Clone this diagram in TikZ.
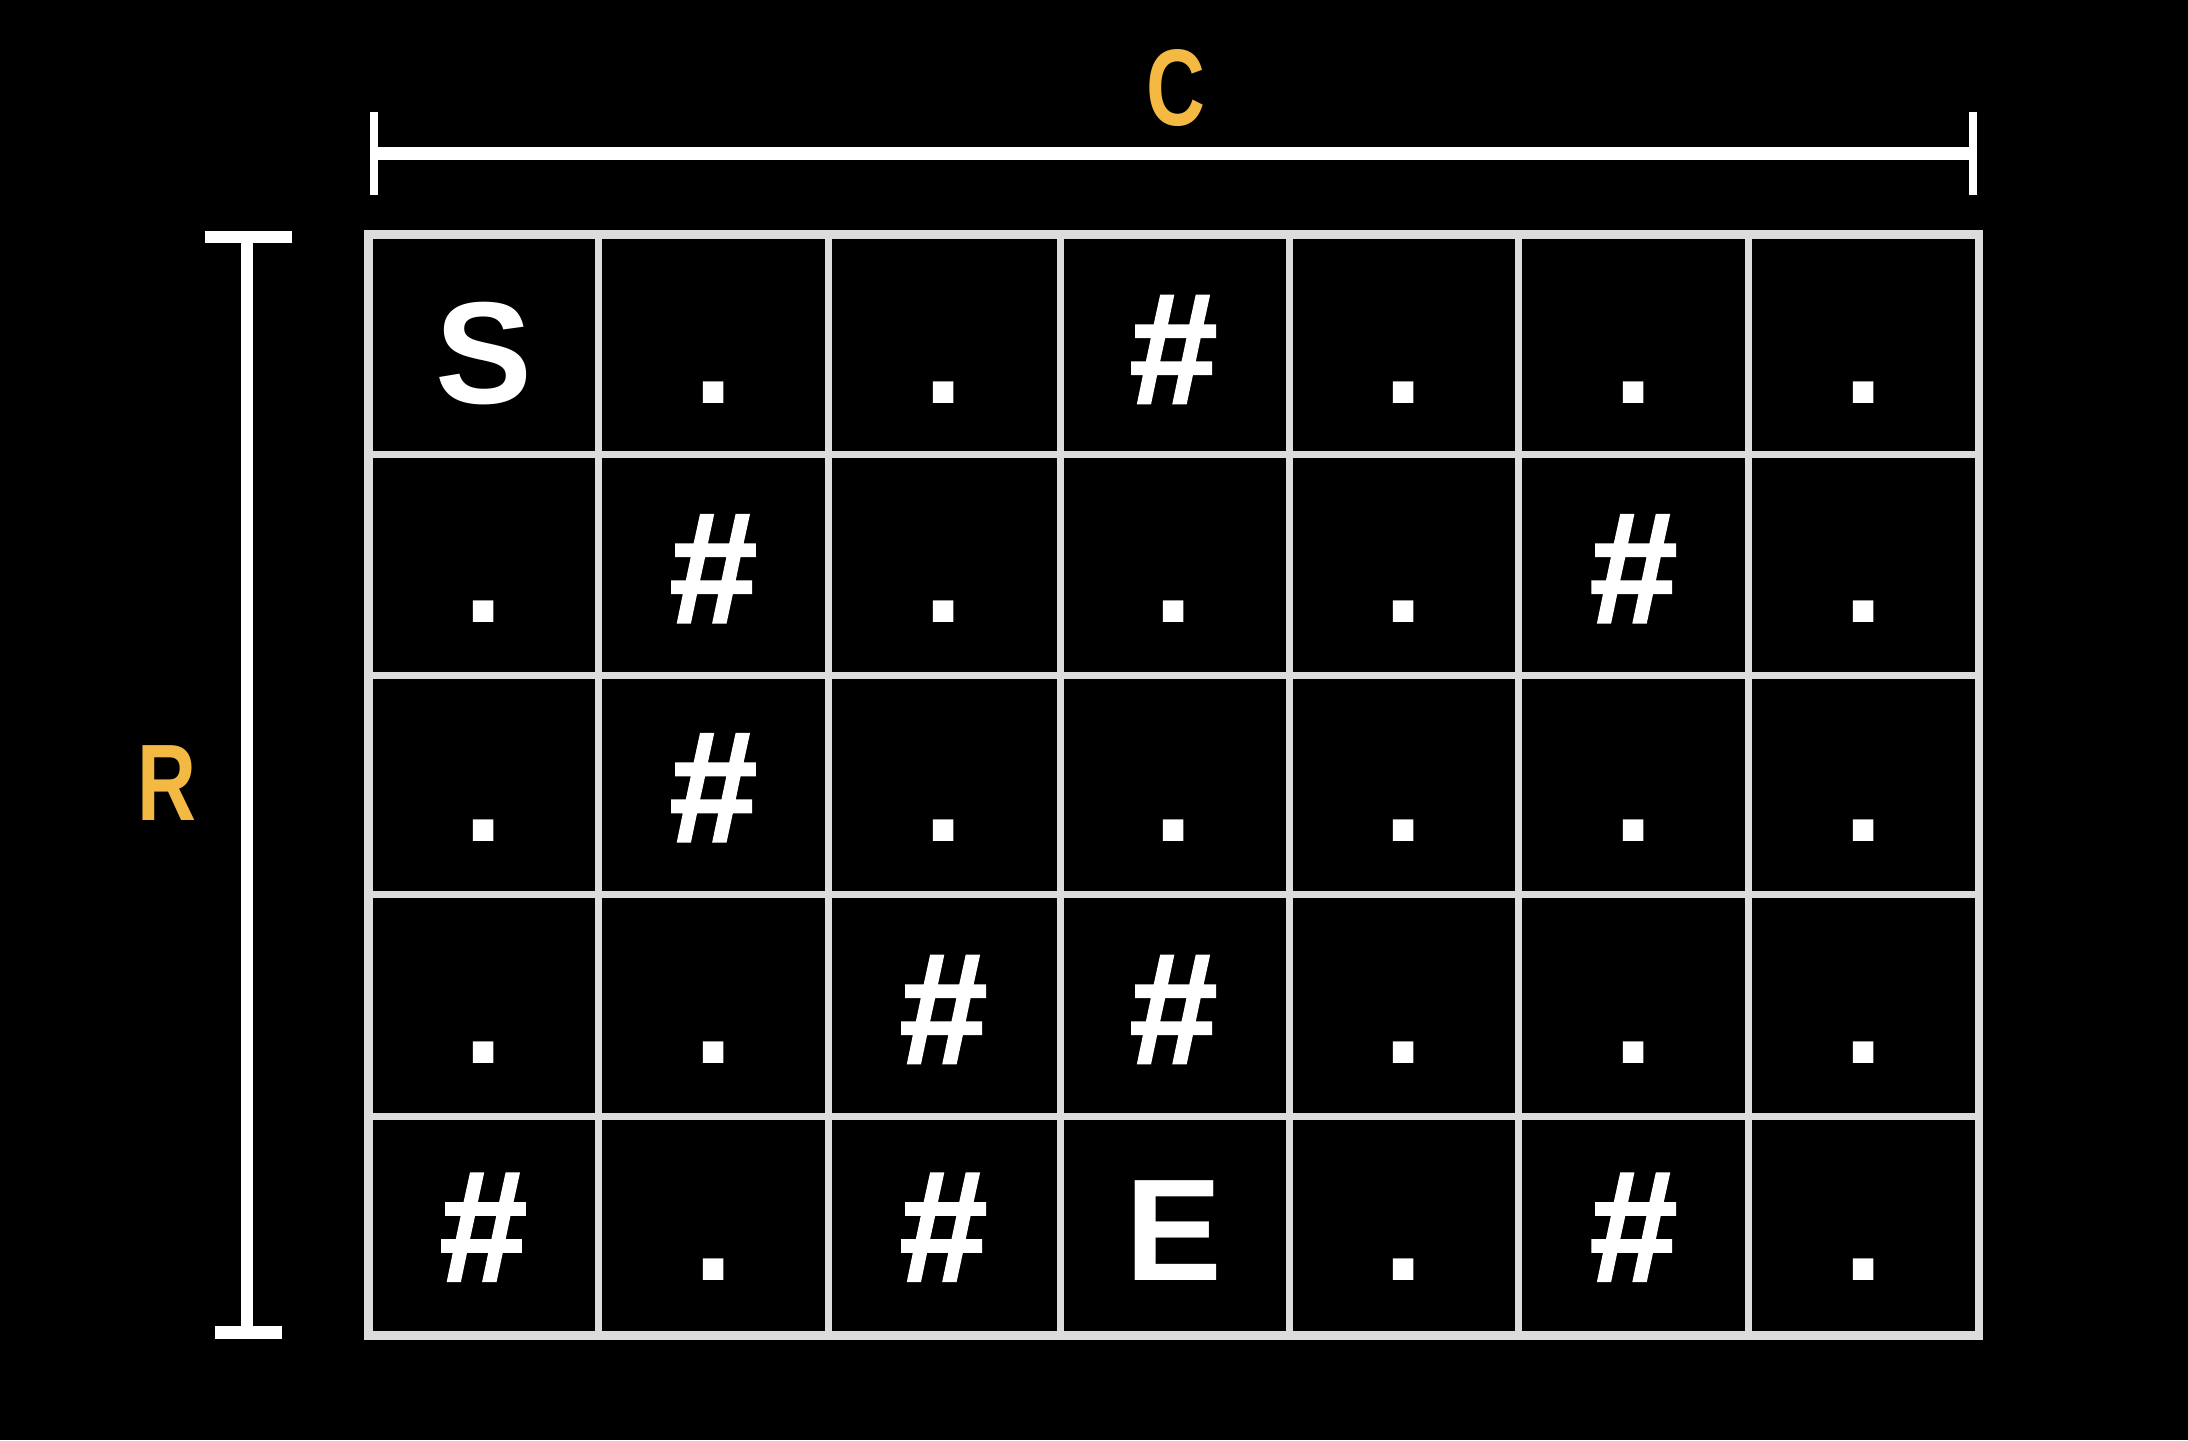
\documentclass[tikz,border=0pt]{standalone}
\usepackage{fontspec}
\setmainfont{Liberation Sans}
\newfontfamily\hashfont[FakeBold=1.5]{Liberation Sans Bold}
\newfontfamily\labelfont[FakeStretch=0.75]{Liberation Sans Bold}
\newcommand\hashmark{{\hashfont\fontsize{113}{120}\selectfont\#}}
\definecolor{dimorange}{HTML}{F4B942}
\definecolor{gridgray}{HTML}{DCDCDC}
\begin{document}
\begin{tikzpicture}[x=1pt,y=-1pt,
  cellmark/.style={anchor=base, text=white, inner sep=0pt, font=\fontsize{104}{110}\selectfont\bfseries},
  dimlabel/.style={text=dimorange, inner sep=0pt, font=\labelfont\fontsize{78}{84}\selectfont},
  gridline/.style={draw=gridgray, line width=5pt},
  dimline/.style={draw=white, line width=9pt},
  dimtick/.style={draw=white, line width=6pt}]
\fill[black] (0,0) rectangle (1568,1032);
\useasboundingbox (0,0) rectangle (1568,1032);
% grid
\foreach \x in {429,594,760,924,1088,1253}
  \draw[gridline] (\x,168) -- (\x,957);
\foreach \y in {326,484,641,800}
  \draw[gridline] (264,\y) -- (1418,\y);
\draw[gridline, line width=6pt] (264,168) rectangle (1418,957);
% cells
\def\cw{164.857}
\foreach \t [count=\c] in {S,.,.,\hashmark,.,.,.}
  \node[cellmark] (c1-\c) at ({264+(\c-0.5)*\cw},289) {\t};
\foreach \t [count=\c] in {.,\hashmark,.,.,.,\hashmark,.}
  \node[cellmark] (c2-\c) at ({264+(\c-0.5)*\cw},446) {\t};
\foreach \t [count=\c] in {.,\hashmark,.,.,.,.,.}
  \node[cellmark] (c3-\c) at ({264+(\c-0.5)*\cw},603) {\t};
\foreach \t [count=\c] in {.,.,\hashmark,\hashmark,.,.,.}
  \node[cellmark] (c4-\c) at ({264+(\c-0.5)*\cw},762) {\t};
\foreach \t [count=\c] in {\hashmark,.,\hashmark,E,.,\hashmark,.}
  \node[cellmark] (c5-\c) at ({264+(\c-0.5)*\cw},918) {\t};
% column dimension
\coordinate (cl) at (268,110);
\coordinate (cr) at (1414,110);
\draw[dimline] (cl) -- (cr);
\draw[dimtick] (268,80) -- (268,140);
\draw[dimtick] (1414,80) -- (1414,140);
\node[dimlabel] (clabel) at (843,63) {C};
% row dimension
\coordinate (rt) at (177,168);
\coordinate (rb) at (177,955);
\draw[dimline, line width=8pt] (rt) -- (rb);
\draw[dimtick, line width=9pt] (147,170) -- (209,170);
\draw[dimtick, line width=9pt] (154,955) -- (202,955);
\node[dimlabel] (rlabel) at (120,561) {R};
\end{tikzpicture}
\end{document}
